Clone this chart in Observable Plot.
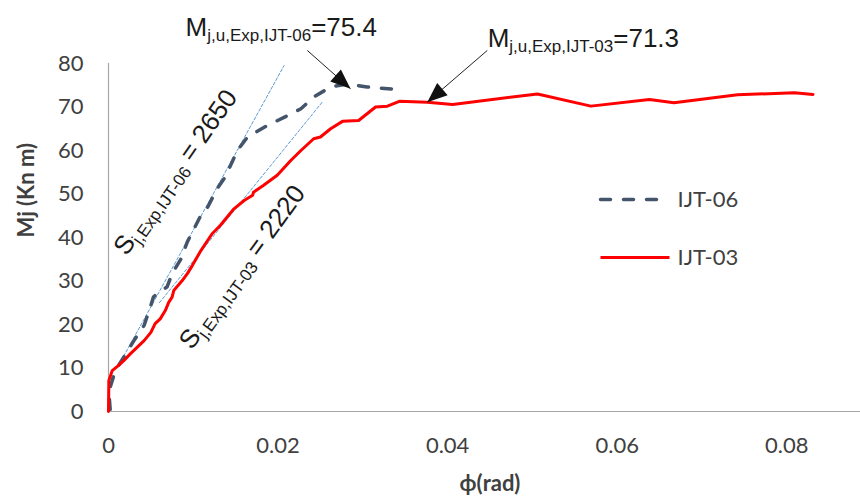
<!DOCTYPE html>
<html>
<head>
<meta charset="utf-8">
<script src="https://cdn.jsdelivr.net/npm/d3@7"></script>
<script src="https://cdn.jsdelivr.net/npm/@observablehq/plot@0.6"></script>
<style>
  html, body { margin: 0; padding: 0; background: #fff; }
</style>
</head>
<body>
<div id="chart"></div>
<script>
// ---------- data ----------
const seriesNames = ["IJT-06", "IJT-03"];

const ijt06Rot = [0.0002, 0.0001, 0.0002, 0.0008, 0.0018, 0.0030, 0.0042, 0.0048, 0.0053, 0.0059, 0.0069, 0.0075, 0.0085, 0.0093, 0.0109, 0.0116, 0.0128, 0.0138, 0.0152, 0.0164, 0.0187, 0.0211, 0.0227, 0.0242, 0.0262, 0.0282, 0.0305, 0.0343];
const ijt06Mom = [0.5, 3.0, 5.6, 9.4, 12.5, 16.3, 19.8, 23.2, 26.3, 27.4, 28.6, 31.7, 34.9, 39.0, 45.1, 46.6, 51.2, 54.0, 60.0, 63.1, 65.7, 68.0, 69.6, 72.3, 74.6, 75.3, 74.6, 74.0];

const ijt03Rot = [0.0, 0.00004, 0.00044, 0.0012, 0.0018, 0.0026, 0.0034, 0.0042, 0.0050, 0.0055, 0.0061, 0.0067, 0.0071, 0.0075, 0.0077, 0.0087, 0.0093, 0.0099, 0.0109, 0.0122, 0.0132, 0.0148, 0.0160, 0.0170, 0.0171, 0.0183, 0.0199, 0.0215, 0.0227, 0.0242, 0.0250, 0.0262, 0.0276, 0.0295, 0.0315, 0.0329, 0.0343, 0.0376, 0.0406, 0.0506, 0.0569, 0.0638, 0.0667, 0.0742, 0.0809, 0.0831];
const ijt03Mom = [0.0, 7.1, 9.4, 10.6, 11.7, 13.3, 14.8, 16.3, 18.2, 20.2, 21.3, 23.2, 25.1, 26.3, 27.8, 30.1, 31.7, 33.6, 37.0, 40.8, 42.8, 46.6, 48.5, 49.7, 50.4, 52.0, 54.3, 57.7, 60.0, 62.7, 63.1, 65.0, 66.7, 66.9, 70.0, 70.2, 71.3, 71.1, 70.6, 73.0, 70.2, 71.7, 71.0, 72.8, 73.3, 72.9];

// initial stiffness lines (end points)
const stiff06Rot = [0.0015, 0.0207];
const stiff06Mom = [11.7, 79.5];
const stiff03Rot = [0.0060, 0.0252];
const stiff03Mom = [25.0, 71.1];

// axis ticks
const xTicks = [0, 0.02, 0.04, 0.06, 0.08];
const xTickLabels = ["0", "0.02", "0.04", "0.06", "0.08"];
const yTicks = [0, 10, 20, 30, 40, 50, 60, 70, 80];
const yTickLabels = ["0", "10", "20", "30", "40", "50", "60", "70", "80"];
const xTitle = "\u03D5(rad)";
const yTitle = "Mj (Kn m)";

// annotations ("|" marks the subscript part)
const peakLabels = ["M|j,u,Exp,IJT-06|=75.4", "M|j,u,Exp,IJT-03|=71.3"];
const peakLabelRot = [0.00909, 0.04472];
const peakLabelMom = [86.4, 83.7];
const arrowFromRot = [0.02345, 0.04468];
const arrowFromMom = [83.0, 83.0];
const arrowToRot = [0.02855, 0.0376];
const arrowToMom = [74.2, 71.1];

const stiffLabels = ["S|j,Exp,IJT-06| = 2650", "S|j,Exp,IJT-03| = 2220"];
const stiffLabelRot = [0.00791, 0.01578];
const stiffLabelMom = [55.0, 33.2];

// ---------- layout ----------
const W = 860, H = 503;
const mL = 108, mR = -11, mT = 63, mB = 92;
const xDomain = [0, 0.09], yDomain = [0, 80];
const xs = d3.scaleLinear(xDomain, [mL, W - mR]);
const ys = d3.scaleLinear(yDomain, [H - mB, mT]);

const red = "#ff0000", slate = "#44546a", stiffBlue = "#5b9bd5", axisGray = "#a6a6a6", textGray = "#404040";

const toRows = (rs, ms) => rs.map((r, i) => ({r, m: ms[i]}));
const s06 = toRows(ijt06Rot, ijt06Mom);
const s03 = toRows(ijt03Rot, ijt03Mom);
const st06 = toRows(stiff06Rot, stiff06Mom);
const st03 = toRows(stiff03Rot, stiff03Mom);

const peaks = peakLabels.map((t, i) => ({t, r: peakLabelRot[i], m: peakLabelMom[i]}));
const arrows = arrowFromRot.map((r, i) => {
  const dx = xs(arrowToRot[i]) - xs(r);
  const dy = ys(arrowToMom[i]) - ys(arrowFromMom[i]);
  return {r1: r, m1: arrowFromMom[i], r2: arrowToRot[i], m2: arrowToMom[i],
          angle: Math.atan2(dx, -dy) * 180 / Math.PI};
});
const stiffText = stiffLabels.map((t, i) => ({t, r: stiffLabelRot[i], m: stiffLabelMom[i], a: i === 0 ? -55 : -54}));

// legend (pixel placement inverted to data space)
const legendRows = seriesNames.map((name, i) => ({
  name,
  r1: xs.invert(600), r2: xs.invert(i === 0 ? 660 : 669),
  rt: xs.invert(677), m: ys.invert(i === 0 ? 199 : 257)
}));

// filled arrowhead with its tip at the origin, pointing up
const arrowHead = {
  draw(ctx) {
    ctx.moveTo(0, 0);
    ctx.lineTo(-8, 20);
    ctx.lineTo(8, 20);
    ctx.closePath();
  }
};

const plot = Plot.plot({
  width: W, height: H,
  marginLeft: mL, marginRight: mR, marginTop: mT, marginBottom: mB,
  x: {domain: xDomain},
  y: {domain: yDomain},
  style: {fontFamily: "Lato, 'Open Sans', sans-serif", fontSize: "22px", color: textGray, background: "#fff", overflow: "visible"},
  marks: [
    Plot.ruleX([0], {stroke: axisGray, strokeWidth: 1.2}),
    Plot.ruleY([0], {stroke: axisGray, strokeWidth: 1.2}),
    Plot.axisX({ticks: xTicks, tickSize: 0, tickPadding: 26, label: null,
      tickFormat: d => xTickLabels[xTicks.indexOf(d)]}),
    Plot.axisY({ticks: yTicks, tickSize: 0, tickPadding: 25, label: null,
      tickFormat: d => yTickLabels[yTicks.indexOf(d)]}),
    Plot.text([yTitle], {frameAnchor: "left", dx: -82, rotate: -90, fontWeight: "bold", fontSize: 22, fill: textGray}),
    Plot.text([xTitle], {frameAnchor: "bottom", dy: 79, fontWeight: "bold", fontSize: 22, fill: textGray}),

    // stiffness lines
    Plot.line(st06, {x: "r", y: "m", stroke: stiffBlue, strokeWidth: 1, strokeDasharray: "3,2"}),
    Plot.line(st03, {x: "r", y: "m", stroke: stiffBlue, strokeWidth: 1, strokeDasharray: "3,2"}),

    // curves
    Plot.line(s06, {x: "r", y: "m", stroke: slate, strokeWidth: 3.5, strokeDasharray: "10,13", strokeLinecap: "round"}),
    Plot.line(s03, {x: "r", y: "m", stroke: red, strokeWidth: 3}),

    // annotations
    Plot.link(arrows, {x1: "r1", y1: "m1", x2: "r2", y2: "m2", stroke: "#222", strokeWidth: 1}),
    Plot.dot(arrows, {x: "r2", y: "m2", symbol: arrowHead, rotate: "angle", fill: "#111", stroke: "none"}),
    Plot.text(peaks, {x: "r", y: "m", text: "t", textAnchor: "start", lineAnchor: "bottom",
      fontFamily: "'Liberation Sans', Arial, sans-serif", fontSize: 26, fill: "#1a1a1a"}),
    Plot.text(stiffText, {x: "r", y: "m", text: "t", rotate: "a", textAnchor: "middle", lineAnchor: "middle",
      fontFamily: "'Liberation Sans', Arial, sans-serif", fontSize: 26, fill: "#1a1a1a"}),

    // legend
    Plot.link(legendRows.slice(0, 1), {x1: "r1", x2: "r2", y1: "m", y2: "m", stroke: slate, strokeWidth: 3.5, strokeDasharray: "10,13", strokeLinecap: "round"}),
    Plot.link(legendRows.slice(1), {x1: "r1", x2: "r2", y1: "m", y2: "m", stroke: red, strokeWidth: 3}),
    Plot.text(legendRows, {x: "rt", y: "m", text: "name", textAnchor: "start", fontSize: 22, fill: textGray})
  ]
});

// turn "A|sub|rest" into real subscripts
const NS = "http://www.w3.org/2000/svg";
plot.querySelectorAll("text").forEach(t => {
  const s = t.textContent;
  if (!s.includes("|")) return;
  const [a, b, c] = s.split("|");
  t.textContent = "";
  const t1 = document.createElementNS(NS, "tspan"); t1.textContent = a;
  const t2 = document.createElementNS(NS, "tspan"); t2.textContent = b;
  t2.setAttribute("font-size", "17"); t2.setAttribute("dy", "5");
  const t3 = document.createElementNS(NS, "tspan"); t3.textContent = c;
  t3.setAttribute("dy", "-5");
  t.append(t1, t2, t3);
});

document.getElementById("chart").append(plot);
</script>
</body>
</html>
